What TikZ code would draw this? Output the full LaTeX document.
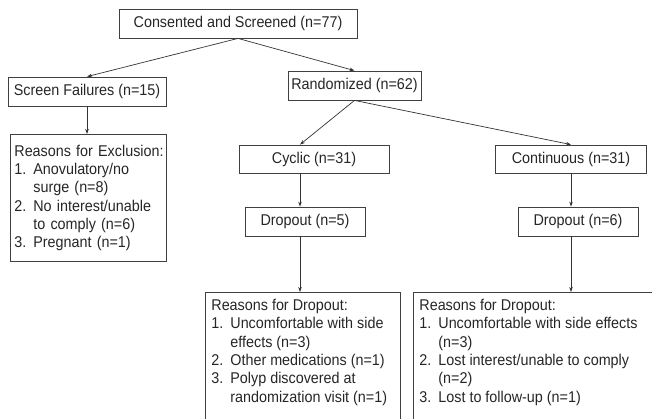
\documentclass[tikz,border=0pt]{standalone}
\usepackage{fontspec}
\setmainfont{Liberation Sans}[FakeStretch=0.92]
\usetikzlibrary{arrows.meta}
\newcommand{\flowfont}{\fontsize{15.6}{18.3}\selectfont}
\newcommand{\inum}[1]{\makebox[19pt][l]{#1}}
\newcommand{\icont}{\hspace*{19pt}}
\tikzset{
  box/.style={draw=black!75, line width=0.8pt, inner sep=0pt, minimum height=29pt,
    font=\flowfont, text=black!85},
  listbox/.style={draw=black!75, line width=0.8pt, inner sep=6pt, align=left,
    anchor=north west, font=\flowfont, text=black!85},
  flow/.style={-{Stealth[length=5pt,width=3.5pt]}, line width=0.7pt, draw=black!80},
}
\begin{document}
\begin{tikzpicture}[x=1pt, y=-1pt]
\clip (0,0) rectangle (652,418);
% boxes
\node[box, minimum width=238pt] (scr) at (238,23.5) {Consented and Screened (n=77)};
\node[box, minimum width=158pt] (fail) at (87,91.5) {Screen Failures (n=15)};
\node[box, minimum width=133pt] (rand) at (354.5,85.5) {Randomized (n=62)};
\node[listbox, inner xsep=4pt, text width=148pt, minimum height=127pt] (excl) at (10,134)
  {\mbox{Reasons for Exclusion:}\\
   \inum{1.}Anovulatory/no\\ \icont surge (n=8)\\
   \inum{2.}No interest/unable\\ \icont to comply (n=6)\\
   \inum{3.}Pregnant (n=1)};
\node[box, minimum width=150pt, minimum height=28pt] (cyc) at (314,159) {Cyclic (n=31)};
\node[box, minimum width=151pt, minimum height=28pt] (cont) at (571,159) {Continuous (n=31)};
\node[box, minimum width=120pt] (dropA) at (305,221.5) {Dropout (n=5)};
\node[box, minimum width=120pt] (dropB) at (578,221.5) {Dropout (n=6)};
\node[listbox, inner ysep=7pt] (whyA) at (205,292)
  {\begin{minipage}[t][150pt][t]{183pt}\raggedright
   Reasons for Dropout:\\
   \inum{1.}Uncomfortable with side\\ \icont effects (n=3)\\
   \inum{2.}Other medications (n=1)\\
   \inum{3.}Polyp discovered at\\ \icont randomization visit (n=1)
   \end{minipage}};
\node[listbox, inner ysep=7pt] (whyB) at (413,292)
  {\begin{minipage}[t][150pt][t]{240pt}\raggedright
   Reasons for Dropout:\\
   \inum{1.}Uncomfortable with side effects\\ \icont (n=3)\\
   \inum{2.}Lost interest/unable to comply\\ \icont (n=2)\\
   \inum{3.}Lost to follow-up (n=1)
   \end{minipage}};
% arrows
\draw[flow] (scr.south) -- (fail.north);
\draw[flow] (scr.south) -- (rand.north);
\draw[flow] (fail.south) -- (fail.south |- excl.north);
\draw[flow] (rand.south) -- ([xshift=-14pt]cyc.north);
\draw[flow] (rand.south) -- (cont.north);
\draw[flow] ([xshift=-14pt]cyc.south) -- ([xshift=-5pt]dropA.north);
\draw[flow] (cont.south) -- (cont.south |- dropB.north);
\draw[flow] ([xshift=-5pt]dropA.south) -- ([xshift=-5pt]dropA.south |- whyA.north);
\draw[flow] (cont.south |- dropB.south) -- (cont.south |- whyB.north);
\end{tikzpicture}
\end{document}
